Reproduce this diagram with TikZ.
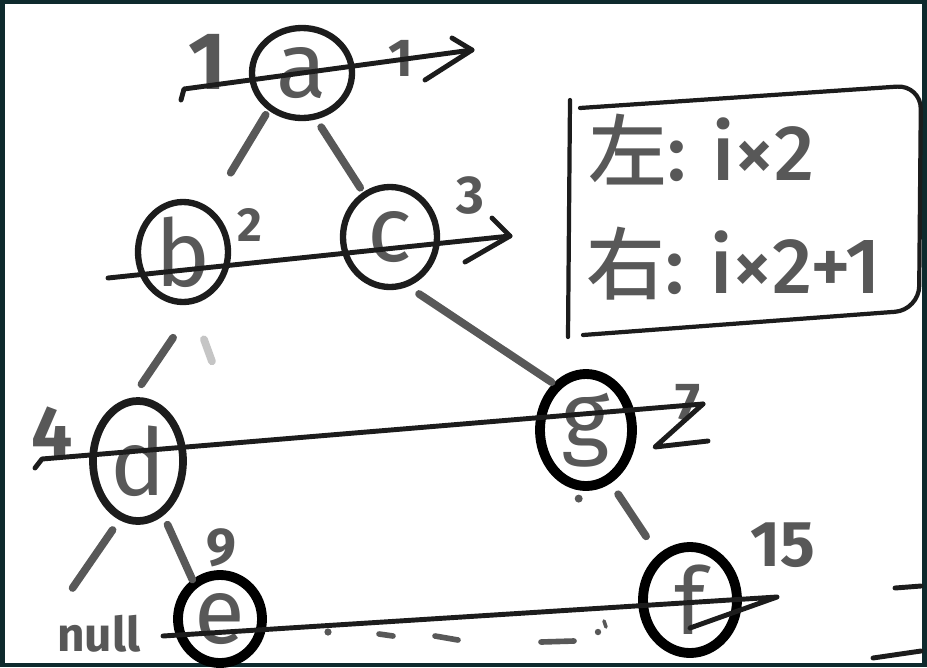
\documentclass[tikz,border=0pt]{standalone}
\usepackage{fontspec}
\setmainfont{Fira Sans}
\newfontfamily\cjk{Noto Sans CJK SC Medium}
\newfontfamily\firamed{Fira Sans Medium}
\usepackage{tikz}
\usetikzlibrary{shapes.geometric,positioning}
\definecolor{board}{HTML}{0E2A2D}
\definecolor{ink}{HTML}{1C1C1C}
\definecolor{pencil}{HTML}{585858}

\begin{document}
\begin{tikzpicture}[x=0.025cm,y=-0.025cm,line cap=round,line join=round,
    elem/.style={ellipse,draw=ink,line width=4.5pt,inner sep=0pt,text=pencil,font=\fontsize{66}{70}\selectfont},
    heavy/.style={draw=black,line width=7pt},
    twig/.style={draw=pencil,line width=5.5pt},
    strike/.style={draw=ink,line width=3.5pt},
    idx/.style={text=pencil,inner sep=0pt,font=\fontsize{46}{48}\selectfont\bfseries},
    small/.style={font=\fontsize{38}{40}\selectfont\bfseries}]
    % board
    \fill[board] (0,0) rectangle (927,667);
    \fill[white] (5,4) rectangle (922,663);

    % tree
    \node[elem,minimum width=2.5cm,minimum height=2.25cm] (a) at (302,73) {a};
    \node[elem,minimum width=2.25cm,minimum height=2cm] (b) at (183,252) {b};
    \node[elem,minimum width=2.35cm,minimum height=2.5cm] (c) at (390,237) {c};
    \node[elem,line width=5.5pt,minimum width=2.25cm,minimum height=3cm] (d) at (138,461) {d};
    \node[elem,heavy,minimum width=2.3cm,minimum height=2.8cm] (g) at (586,430) {g};
    \node[elem,heavy,minimum width=2.1cm,minimum height=2.2cm] (e) at (220,619) {e};
    \node[elem,heavy,minimum width=2.35cm,minimum height=2.65cm] (f) at (690,600) {f};

    \draw[twig,shorten <=0.13cm,shorten >=1.02cm] (a.-132) -- (b.59);
    \draw[twig,shorten <=0.23cm,shorten >=0.13cm] (a.-73) -- (c.121);
    \draw[twig,shorten <=1.05cm,shorten >=0.4cm] (b.-75) -- (d.95);
    \draw[twig,draw=pencil!35] (b.-70) ++(3,38) -- ++(8,22);
    \draw[twig,shorten <=0.33cm,shorten >=0.05cm] (c.-70) -- (g.125);
    \draw[twig,shorten <=0.33cm,shorten >=0.54cm] (g.-65) -- (f.125);
    \fill[pencil] (g.-95) ++(-2,8) circle[radius=0.1cm];
    \draw[twig] (d.-120) ++(4,18) -- ++(-40,58);
    \draw[twig,shorten <=0.25cm] (d.-65) -- (e.125);

    % level numbers
    \node[idx,font=\fontsize{58}{60}\selectfont\bfseries] (n1) at (207,62) {1};
    \node[idx,small] (n1r) at (401,58) {1};
    \node[idx,small,font=\fontsize{34}{36}\selectfont\bfseries] (n2) at (250,225) {2};
    \node[idx,small] (n3) at (470,196) {3};
    \node[idx,font=\fontsize{52}{54}\selectfont\bfseries] (n4) at (52,432) {4};
    \node[idx,small] (n7) at (688,403) {7};
    \node[idx,small] (n9) at (221,548) {9};
    \node[idx] (n15) at (783,545) {15};
    \node[idx,small,font=\fontsize{34}{36}\selectfont\bfseries] (null) at (99,634) {null};

    % level sweeps
    \coordinate (s1) at (184,89);
    \coordinate (t1) at (472,50);
    \coordinate (s2) at (108,278);
    \coordinate (t2) at (510,236);
    \coordinate (s3) at (42,459);
    \coordinate (t3) at (703,404);
    \coordinate (s4) at (163,636);
    \coordinate (t4) at (777,597);
    \draw[strike] (181,100) -- (s1) -- (t1);
    \draw[strike] (452,38) -- (t1) -- (425,80);
    \draw[strike] (s2) -- (t2);
    \draw[strike] (492,218) -- (t2) -- (465,262);
    \draw[strike] (35,468) -- (s3) -- (t3);
    \draw[strike] (t3) -- (655,447) -- (708,441);
    \draw[strike] (s4) -- (t4) -- (690,628);

    % dashes between e and f
    \fill[pencil] (328,632) circle[radius=0.09cm];
    \draw[twig,line width=4pt] (379,634) -- (393,636);
    \draw[twig,line width=4pt] (435,636) -- (458,640);
    \draw[twig,line width=4pt] (541,642) -- (574,641);
    \fill[pencil] (598,632) circle[radius=0.08cm];
    \draw[twig,line width=2.5pt] (604,621) -- (606,627);

    % cut strokes at the right edge
    \draw[strike] (895,588) -- (921,586);
    \draw[strike] (873,658) -- (921,651);

    % rule box
    \draw[strike,line width=3pt] (570,100) -- (568,337);
    \draw[strike,line width=3pt,rounded corners=0.6cm] (580,108) -- (921,85) -- (919,310) -- (583,335);
    \node[anchor=west,text=pencil,inner sep=0pt,font=\fontsize{56}{60}\selectfont\firamed] (lrule) at (588,150) {{\cjk 左}: i×2};
    \node[anchor=west,text=pencil,inner sep=0pt,font=\fontsize{56}{60}\selectfont\firamed] (rrule) at (586,264) {{\cjk 右}: i×2+1};
\end{tikzpicture}
\end{document}
